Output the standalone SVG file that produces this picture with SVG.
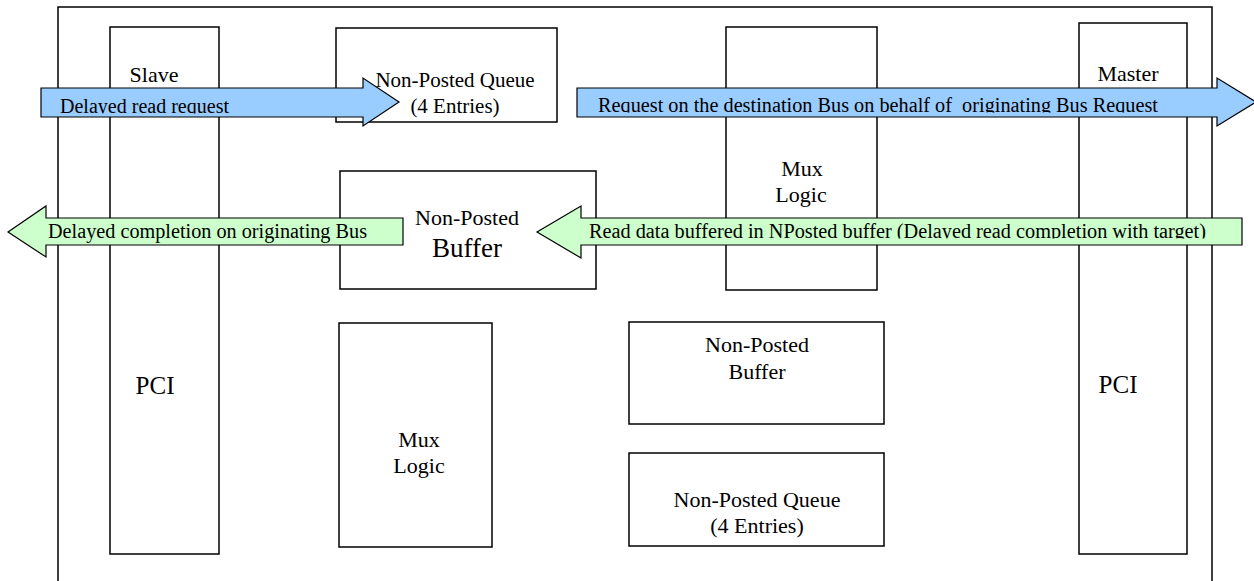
<svg xmlns="http://www.w3.org/2000/svg" width="1254" height="581" viewBox="0 0 1254 581">
<style>
.box{fill:#fff;stroke:#000;stroke-width:1.5}
.t{font-family:'Liberation Serif','DejaVu Serif',serif;font-size:22px;fill:#000;text-anchor:middle}
.at{font-family:'Liberation Serif','DejaVu Serif',serif;font-size:20px;fill:#000}
.blue{fill:#99ccff;stroke:#000;stroke-width:1.2}
.green{fill:#ccffcc;stroke:#000;stroke-width:1.2}
</style>
<defs>
<clipPath id="c1"><rect x="41" y="88" width="360" height="25.5"/></clipPath>
<clipPath id="c2"><rect x="577" y="88" width="677" height="24.5"/></clipPath>
<clipPath id="c3"><rect x="40" y="218" width="365" height="26"/></clipPath>
<clipPath id="c4"><rect x="575" y="218" width="668" height="20.5"/></clipPath>
</defs>
<rect x="58" y="7" width="1154" height="590" fill="none" stroke="#000" stroke-width="1.5"/>
<g id="slave-pci"><rect class="box" x="110" y="27" width="109" height="527"/><text class="t" x="154" y="82">Slave</text><text class="t" x="155" y="394" style="font-size:25px">PCI</text></g>
<g id="master-pci"><rect class="box" x="1079" y="23" width="108" height="531"/><text class="t" x="1128" y="81">Master</text><text class="t" x="1118" y="393" style="font-size:25px">PCI</text></g>
<g id="npq-top"><rect class="box" x="336" y="28" width="221" height="94"/><text class="t" x="455" y="87" style="font-size:21px">Non-Posted Queue</text><text class="t" x="455" y="113" style="font-size:21px">(4 Entries)</text></g>
<g id="mux-top"><rect class="box" x="726" y="27" width="151" height="263"/><text class="t" x="802" y="176">Mux</text><text class="t" x="801" y="202">Logic</text></g>
<g id="npb-mid"><rect class="box" x="340" y="171" width="256" height="118"/><text class="t" x="467" y="225">Non-Posted</text><text class="t" x="467" y="257" style="font-size:27px">Buffer</text></g>
<g id="mux-bottom"><rect class="box" x="339" y="323" width="153" height="224"/><text class="t" x="419" y="447">Mux</text><text class="t" x="419" y="473">Logic</text></g>
<g id="npb-low"><rect class="box" x="629" y="322" width="255" height="102"/><text class="t" x="757" y="352">Non-Posted</text><text class="t" x="757" y="379">Buffer</text></g>
<g id="npq-low"><rect class="box" x="629" y="453" width="255" height="93"/><text class="t" x="757" y="507">Non-Posted Queue</text><text class="t" x="757" y="533">(4 Entries)</text></g>
<g id="connectors">
<g id="arrow-delayed-read-request"><polygon class="blue" points="41,88 363,88 363,78 399,102 363,126 363,117 41,117"/><text class="at" x="60" y="113" textLength="169" lengthAdjust="spacingAndGlyphs" clip-path="url(#c1)">Delayed read request</text></g>
<g id="arrow-request-dest"><polygon class="blue" points="577,88 1217,88 1217,78 1256,102 1217,126 1217,117 577,117"/><text class="at" x="598" y="112" textLength="560" lengthAdjust="spacingAndGlyphs" clip-path="url(#c2)" xml:space="preserve">Request on the destination Bus on behalf of  originating Bus Request</text></g>
<g id="arrow-delayed-completion"><polygon class="green" points="403,218 46,218 46,206 8,232 46,257 46,245 403,245"/><text class="at" x="48" y="238" textLength="319" lengthAdjust="spacingAndGlyphs" clip-path="url(#c3)">Delayed completion on originating Bus</text></g>
<g id="arrow-read-data"><polygon class="green" points="1242,218 581,218 581,206 537,232 581,258 581,245 1242,245"/><text class="at" x="589" y="238" textLength="617" lengthAdjust="spacingAndGlyphs" clip-path="url(#c4)">Read data buffered in NPosted buffer (Delayed read completion with target)</text></g>
</g>
</svg>
